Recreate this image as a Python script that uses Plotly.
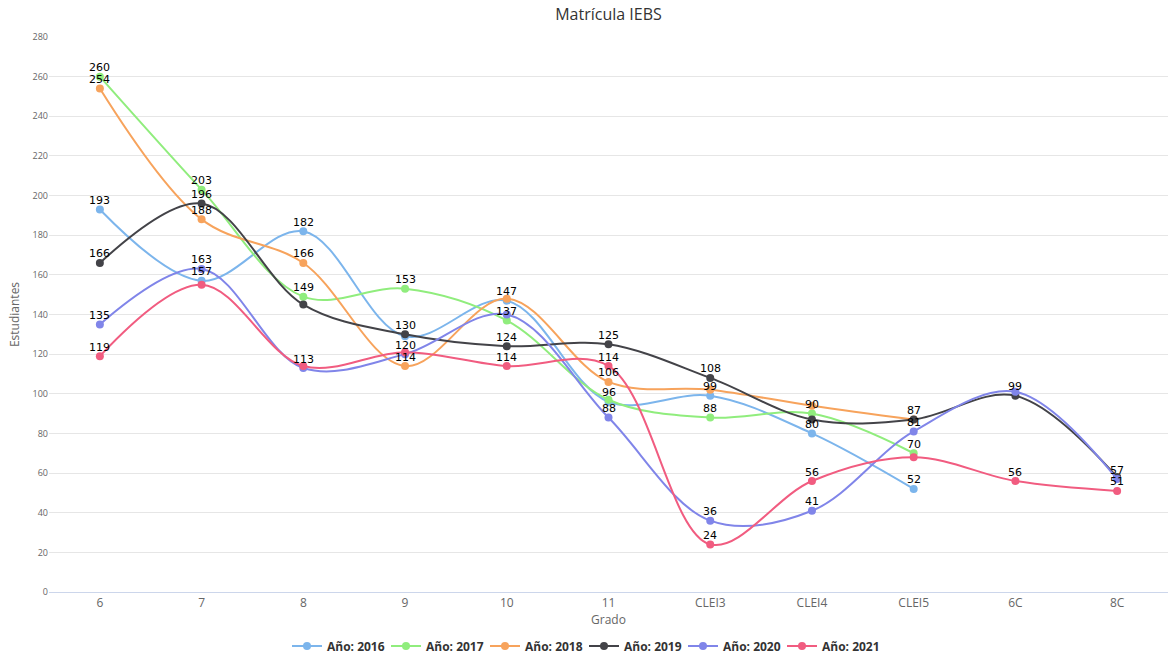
import plotly.graph_objects as go

categories = ["6", "7", "8", "9", "10", "11", "CLEI3", "CLEI4", "CLEI5", "6C", "8C"]

y2016 = [193, 157, 182, 129, 147, 96, 99, 80, 52, None, None]
y2017 = [260, 203, 149, 153, 137, 97, 88, 90, 70, None, None]
y2018 = [254, 188, 166, 114, 148, 106, 102, 94, 87, None, None]
y2019 = [166, 196, 145, 130, 124, 125, 108, 87, 87, 99, 58]
y2020 = [135, 163, 113, 120, 140, 88, 36, 41, 81, 101, 57]
y2021 = [119, 155, 114, 121, 114, 114, 24, 56, 68, 56, 51]

series_names = ["Año: 2016", "Año: 2017", "Año: 2018", "Año: 2019", "Año: 2020", "Año: 2021"]
series_values = [y2016, y2017, y2018, y2019, y2020, y2021]
colors = ["#7cb5ec", "#90ed7d", "#f7a35c", "#434348", "#8085e9", "#f15c80"]

# data labels hidden due to overlap (series index, category index)
hidden_labels = {
    (0, 3),
    (2, 4), (4, 4),
    (1, 5),
    (2, 6),
    (2, 7), (3, 7),
    (3, 8), (5, 8),
    (4, 9),
    (3, 10),
    (5, 1),
    (3, 2), (5, 2),
    (5, 3),
}

fig = go.Figure()
annotations = []
for si, (name, vals, col) in enumerate(zip(series_names, series_values, colors)):
    fig.add_trace(go.Scatter(
        x=categories, y=vals, name=name,
        mode="lines+markers",
        line=dict(color=col, width=2, shape="spline", smoothing=1.0),
        marker=dict(color=col, size=8),
        connectgaps=False,
        cliponaxis=False,
    ))
    for ci, v in enumerate(vals):
        if v is None or (si, ci) in hidden_labels:
            continue
        annotations.append(dict(
            x=ci, y=v, xref="x", yref="y",
            text=str(v), showarrow=False,
            yanchor="middle", xanchor="center", yshift=9,
            font=dict(family="DejaVu Sans", size=11, color="#000000"),
        ))

fig.update_layout(
    width=1168, height=654,
    margin=dict(l=49, r=0, t=37, b=62),
    paper_bgcolor="white", plot_bgcolor="white",
    font=dict(family="Open Sans, DejaVu Sans, sans-serif", color="#666666"),
    title=dict(text="Matrícula IEBS", x=0.5, xref="paper", xanchor="center",
               y=1 - 14 / 654, yref="container", yanchor="middle",
               font=dict(size=16, color="#333333")),
    xaxis=dict(
        type="category", categoryorder="array", categoryarray=categories,
        range=[-0.5, 10.5], showgrid=False, showline=True, linecolor="#ccd6eb",
        ticks="", tickfont=dict(size=12, color="#666666"),
        title=dict(text="Grado", font=dict(size=12, color="#666666"), standoff=4),
        fixedrange=True,
    ),
    yaxis=dict(
        range=[0, 280], tick0=0, dtick=20, showgrid=True, gridcolor="#e6e6e6",
        zeroline=True, zerolinecolor="#e6e6e6", showline=False,
        tickfont=dict(size=9, color="#666666"),
        title=dict(text="Estudiantes", font=dict(size=12, color="#666666"), standoff=10),
        fixedrange=True,
    ),
    legend=dict(
        orientation="h", x=0.5, xref="container", xanchor="center",
        y=1 - 646 / 654, yref="container", yanchor="middle",
        font=dict(size=12, color="#333333", weight="bold"),
        itemwidth=30, entrywidth=54, entrywidthmode="pixels",
    ),
    annotations=annotations,
    showlegend=True,
)

fig.write_html("out.html")
